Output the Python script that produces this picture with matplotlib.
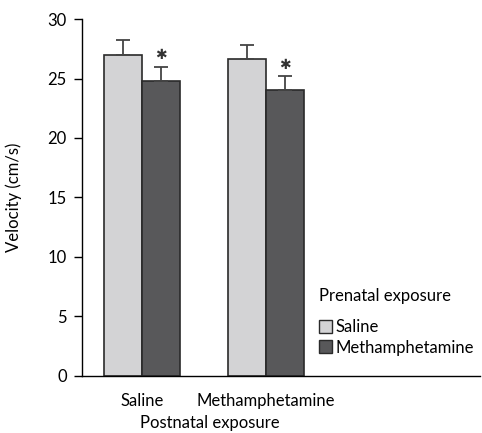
import numpy as np
import matplotlib.pyplot as plt
from matplotlib.patches import Patch

plt.rcParams['font.family'] = ['Lato', 'DejaVu Sans']

# data
groups = ['Saline', 'Methamphetamine']          # postnatal exposure
prenatal = ['Saline', 'Methamphetamine']
means_saline = np.array([27.0, 26.6])
means_meth = np.array([24.8, 24.0])
sem_saline = np.array([1.2, 1.2])
sem_meth = np.array([1.2, 1.2])

light = '#d3d3d5'
dark = '#58585a'
edge = '#2a2a2a'
fs = 12

fig = plt.figure(figsize=(4.82, 4.33), dpi=100)
ax = fig.add_axes([0.170, 0.132, 0.826, 0.824])

x = np.arange(len(groups))
w = 0.306
ax.bar(x - w / 2, means_saline, w, color=light, edgecolor=edge, linewidth=1.2,
       yerr=[np.zeros(2), sem_saline], error_kw=dict(ecolor='#444', capsize=5, elinewidth=1.3, capthick=1.3))
ax.bar(x + w / 2, means_meth, w, color=dark, edgecolor=edge, linewidth=1.2,
       yerr=[np.zeros(2), sem_meth], error_kw=dict(ecolor='#444', capsize=5, elinewidth=1.3, capthick=1.3))

# significance markers
for xi, m, s in zip(x + w / 2, means_meth, sem_meth):
    ax.text(xi, m + s + 0.35, '✱', ha='center', va='bottom', fontsize=10,
            color='#333', family='DejaVu Sans')

ax.set_xlim(-0.484, 2.726)
ax.set_ylim(0, 30)
ax.set_yticks(range(0, 31, 5))
ax.set_xticks(x)
ax.set_xticklabels(groups, fontsize=fs)
ax.tick_params(axis='x', length=0, pad=12)
ax.tick_params(axis='y', labelsize=fs, length=6, width=1, pad=5)
ax.set_ylabel('Velocity (cm/s)', fontsize=fs)
ax.yaxis.set_label_coords(-0.15, 0.5)
ax.set_xlabel('Postnatal exposure', fontsize=fs)
ax.xaxis.set_label_coords(0.32, -0.11)

for sp in ['top', 'right']:
    ax.spines[sp].set_visible(False)
ax.spines['left'].set_linewidth(1)
ax.spines['bottom'].set_linewidth(1)

handles = [Patch(facecolor=light, edgecolor=edge, label=prenatal[0]),
           Patch(facecolor=dark, edgecolor=edge, label=prenatal[1])]
leg = ax.legend(handles=handles, title='Prenatal exposure', loc='lower left',
                bbox_to_anchor=(0.565, 0.024), frameon=False, fontsize=fs,
                title_fontsize=fs, handlelength=0.8, handleheight=0.8,
                handletextpad=0.2, labelspacing=0.25, borderpad=0.2)
leg._legend_box.align = 'left'
leg._legend_box.sep = 11

fig.savefig('out.png', dpi=100)
